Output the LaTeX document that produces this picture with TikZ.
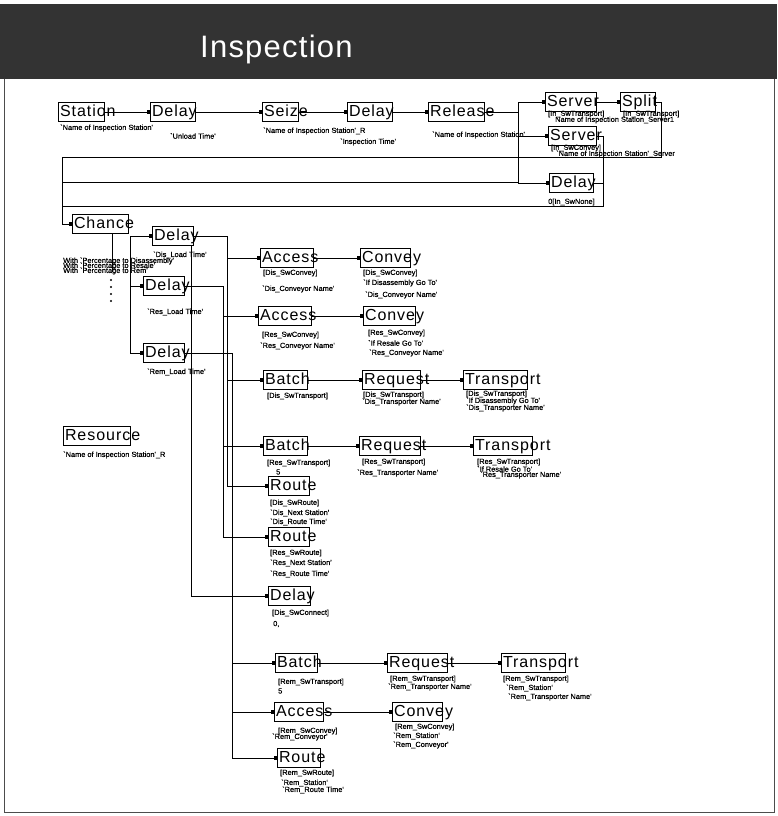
\documentclass[tikz,border=0pt]{standalone}
\usepackage{fontspec}
\setmainfont{Liberation Sans}
\newfontfamily\blkfont[LetterSpace=6]{Liberation Sans}
\newfontfamily\lblfont[FakeBold=0.6]{Liberation Sans}
\newfontfamily\ttlfont[LetterSpace=4]{Liberation Sans}
\usetikzlibrary{arrows.meta}
\begin{document}
\begin{tikzpicture}[x=1pt,y=-1pt,
  blk/.style={draw, line width=1pt, anchor=west, font=\blkfont\fontsize{16}{17}\selectfont,
    text width=#1, align=left, inner xsep=1.5pt, inner ysep=2pt, text height=11.5pt, text depth=3.5pt},
  lbl/.style={anchor=west, font=\lblfont\fontsize{7.4}{8}\selectfont, inner sep=0pt},
  con/.style={line width=0.7pt},
  sq/.style={con, -{Square[length=3.5pt,width=3.5pt]}},
]
\useasboundingbox (0,0) rectangle (777,816);
% header
\fill[black!80] (0,4) rectangle (777,79);
\node[anchor=base west, text=white, font=\ttlfont\fontsize{31}{31}\selectfont, inner sep=0pt] (title) at (200,57) {Inspection};
\draw[line width=0.6pt, black!70] (4,79) -- (4,812) -- (774,812) -- (774,79);

% row 1
\node[blk=43pt] (st) at (58,112) {\mbox{Station}};
\node[blk=42pt] (d1) at (150,112) {\mbox{Delay}};
\node[blk=33pt] (sz) at (262,112) {\mbox{Seize}};
\node[blk=42pt] (d2) at (347,112) {\mbox{Delay}};
\node[blk=53pt] (rl) at (428,112) {\mbox{Release}};
\node[blk=48pt] (s1) at (545,102) {\mbox{Server}};
\node[blk=32pt] (sp) at (620,102) {\mbox{Split}};
\node[blk=45pt] (s2) at (548,136) {\mbox{Server}};
\node[blk=41pt] (d3) at (549,183) {\mbox{Delay}};

\node[lbl] (t1) at (60,128) {`Name of Inspection Station'};
\node[lbl] (t2) at (170,136) {`Unload Time'};
\node[lbl] (t3) at (263,131) {`Name of Inspection Station'\_R};
\node[lbl] (t4) at (340,142) {`Inspection Time'};
\node[lbl] (t5) at (432,135) {`Name of Inspection Station'};
\node[lbl] (t6) at (548,114) {[In\_SwTransport]};
\node[lbl] (t7) at (623,114) {[In\_SwTransport]};
\node[lbl] (t8) at (555,120) {Name of Inspection Station\_Server1};
\node[lbl] (t9) at (551,148) {[In\_SwConvey]};
\node[lbl] (t10) at (556,154) {`Name of Inspection Station'\_Server};
\node[lbl] (t11) at (548,202) {0[In\_SwNone]};

% chance and delays
\node[blk=53pt] (ch) at (72,224) {\mbox{Chance}};
\node[blk=38pt] (dd) at (152,236) {\mbox{Delay}};
\node[blk=38pt] (dr) at (143,286) {\mbox{Delay}};
\node[blk=38pt] (dm) at (143,353) {\mbox{Delay}};
\node[lbl] (t12) at (153,255) {`Dis\_Load Time'};
\node[lbl] (t13) at (63,261) {With `Percentage to Disassembly'};
\node[lbl] (t14) at (63,266) {With `Percentage to Resale'};
\node[lbl] (t15) at (63,271) {With `Percentage to Rem'};
\node[lbl] (t16) at (147,312) {`Res\_Load Time'};
\node[lbl] (t17) at (147,372) {`Rem\_Load Time'};

% resource
\node[blk=64pt] (rs) at (63,436) {\mbox{Resource}};
\node[lbl] (t18) at (63,455) {`Name of Inspection Station'\_R};

% access / convey
\node[blk=50pt] (ac1) at (260,258) {\mbox{Access}};
\node[blk=47pt] (cv1) at (360,258) {\mbox{Convey}};
\node[blk=50pt] (ac2) at (258,316) {\mbox{Access}};
\node[blk=49pt] (cv2) at (363,316) {\mbox{Convey}};
\node[lbl] (t19) at (263,273) {[Dis\_SwConvey]};
\node[lbl] (t20) at (262,289) {`Dis\_Conveyor Name'};
\node[lbl] (t21) at (363,273) {[Dis\_SwConvey]};
\node[lbl] (t22) at (363,283) {`If Disassembly Go To'};
\node[lbl] (t23) at (365,295) {`Dis\_Conveyor Name'};
\node[lbl] (t24) at (262,335) {[Res\_SwConvey]};
\node[lbl] (t25) at (260,346) {`Res\_Conveyor Name'};
\node[lbl] (t26) at (368,333) {[Res\_SwConvey]};
\node[lbl] (t27) at (368,343) {`If Resale Go To'};
\node[lbl] (t28) at (369,353) {`Res\_Conveyor Name'};

% batch / request / transport
\node[blk=41pt] (bt1) at (263,380) {\mbox{Batch}};
\node[blk=55pt] (rq1) at (362,380) {\mbox{Request}};
\node[blk=61pt] (tr1) at (463,380) {\mbox{Transport}};
\node[lbl] (t29) at (267,396) {[Dis\_SwTransport]};
\node[lbl] (t30) at (363,395) {[Dis\_SwTransport]};
\node[lbl] (t31) at (362,402) {`Dis\_Transporter Name'};
\node[lbl] (t32) at (466,394) {[Dis\_SwTransport]};
\node[lbl] (t33) at (466,401) {`If Disassembly Go To'};
\node[lbl] (t34) at (466,408) {`Dis\_Transporter Name'};

\node[blk=41pt] (bt2) at (263,446) {\mbox{Batch}};
\node[blk=58pt] (rq2) at (359,446) {\mbox{Request}};
\node[blk=56pt] (tr2) at (473,446) {\mbox{Transport}};
\node[lbl] (t35) at (267,463) {[Res\_SwTransport]};
\node[lbl] (t36) at (276,472) {5};
\node[lbl] (t37) at (362,462) {[Res\_SwTransport]};
\node[lbl] (t38) at (357,473) {`Res\_Transporter Name'};
\node[lbl] (t39) at (477,462) {[Res\_SwTransport]};
\node[lbl] (t40) at (477,469) {`If Resale Go To'};
\node[lbl] (t41) at (480,475) {`Res\_Transporter Name'};

% routes
\node[blk=38pt] (ro1) at (268,486) {\mbox{Route}};
\node[lbl] (t42) at (270,503) {[Dis\_SwRoute]};
\node[lbl] (t43) at (270,513) {`Dis\_Next Station'};
\node[lbl] (t44) at (270,522) {`Dis\_Route Time'};
\node[blk=38pt] (ro2) at (268,537) {\mbox{Route}};
\node[lbl] (t45) at (270,553) {[Res\_SwRoute]};
\node[lbl] (t46) at (270,563) {`Res\_Next Station'};
\node[lbl] (t47) at (270,574) {`Res\_Route Time'};
\node[blk=39pt] (d4) at (268,596) {\mbox{Delay}};
\node[lbl] (t48) at (272,613) {[Dis\_SwConnect]};
\node[lbl] (t49) at (273,624) {0,};

% rem group
\node[blk=39pt] (bt3) at (275,663) {\mbox{Batch}};
\node[blk=57pt] (rq3) at (387,663) {\mbox{Request}};
\node[blk=61pt] (tr3) at (501,663) {\mbox{Transport}};
\node[lbl] (t50) at (278,682) {[Rem\_SwTransport]};
\node[lbl] (t51) at (278,691) {5};
\node[lbl] (t52) at (390,679) {[Rem\_SwTransport]};
\node[lbl] (t53) at (388,687) {`Rem\_Transporter Name'};
\node[lbl] (t54) at (503,679) {[Rem\_SwTransport]};
\node[lbl] (t55) at (506,688) {`Rem\_Station'};
\node[lbl] (t56) at (508,697) {`Rem\_Transporter Name'};
\node[blk=46pt] (ac3) at (274,712) {\mbox{Access}};
\node[blk=47pt] (cv3) at (392,712) {\mbox{Convey}};
\node[lbl] (t57) at (278,731) {[Rem\_SwConvey]};
\node[lbl] (t58) at (272,737) {`Rem\_Conveyor'};
\node[lbl] (t59) at (395,727) {[Rem\_SwConvey]};
\node[lbl] (t60) at (393,736) {`Rem\_Station'};
\node[lbl] (t61) at (393,745) {`Rem\_Conveyor'};
\node[blk=40pt] (ro3) at (277,758) {\mbox{Route}};
\node[lbl] (t62) at (280,773) {[Rem\_SwRoute]};
\node[lbl] (t63) at (281,783) {`Rem\_Station'};
\node[lbl] (t64) at (282,790) {`Rem\_Route Time'};

% connectors row 1
\draw[sq] (st) -- (d1);
\draw[sq] (d1) -- (sz);
\draw[sq] (sz) -- (d2);
\draw[sq] (d2) -- (rl);
\coordinate (rj) at (518,112);
\draw[con] (rl) -- (rj);
\draw[sq] (rj) |- (s1);
\draw[sq] (rj) |- (s2);
\draw[sq] (rj) |- (d3);
\draw[sq] (s1) -- (sp);
% return loops
\coordinate (lt) at (62,157);
\coordinate (l2) at (62,182);
\coordinate (l3) at (62,206);
\coordinate (rv) at (603,206);
\draw[con] (sp.east) -- ++(5,0) |- (lt);
\draw[con] (l2) -- (rj |- l2);
\draw[con] (s2.east) -| (rv) -- (l3);
\draw[con] (d3.east) -- (d3.east -| rv);
\draw[sq] (lt) |- (ch);
% chance branches
\coordinate (cb) at (112,272);
\draw[con] (ch.south -| cb) -- (cb);
\foreach \yy in {280,287,294,301} \fill (111,\yy) circle (1.1pt);
\coordinate (cj) at (130,270);
\draw[sq] (cj) |- (dd);
\draw[sq] (cj) |- (dr);
\draw[sq] (cj) |- (dm);
% buses
\coordinate (bD) at (227,236);
\coordinate (bR) at (223,286);
\coordinate (bM) at (232,353);
\draw[con] (dd) -- (bD);
\draw[con] (dr) -- (bR);
\draw[con] (dm) -- (bM);
\draw[sq] (bD) |- (ac1);
\draw[sq] (bD) |- (bt1);
\draw[sq] (bD) |- (ro1);
\draw[sq] (bR) |- (ac2);
\draw[sq] (bR) |- (bt2);
\draw[sq] (bR) |- (ro2);
\draw[sq] (bM) |- (bt3);
\draw[sq] (bM) |- (ac3);
\draw[sq] (bM) |- (ro3);
\draw[sq] ([xshift=-3pt]dd.south east) |- (d4);
% chains
\draw[sq] (ac1) -- (cv1);
\draw[sq] (ac2) -- (cv2);
\draw[sq] (bt1) -- (rq1);
\draw[sq] (rq1) -- (tr1);
\draw[sq] (bt2) -- (rq2);
\draw[sq] (rq2) -- (tr2);
\draw[sq] (bt3) -- (rq3);
\draw[sq] (rq3) -- (tr3);
\draw[sq] (ac3) -- (cv3);
\end{tikzpicture}
\end{document}
